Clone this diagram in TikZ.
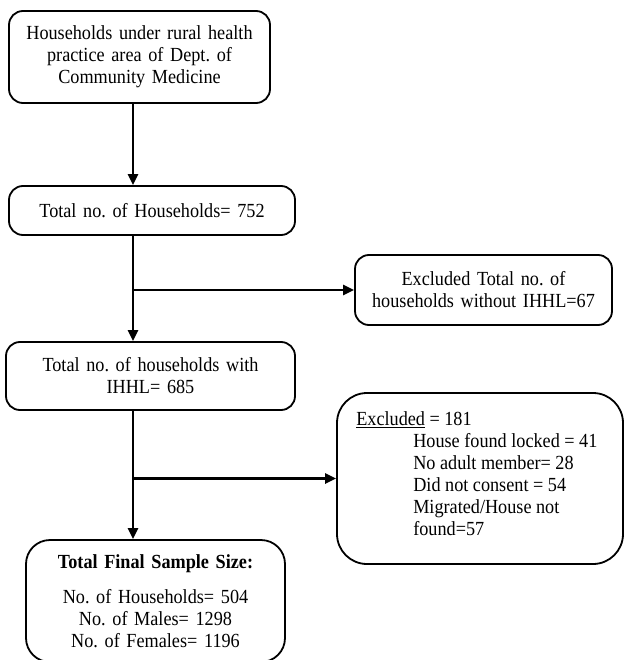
\documentclass[tikz,border=0pt]{standalone}
\usepackage{fontspec}
\setmainfont{Liberation Serif}[FakeStretch=0.91]
\usetikzlibrary{positioning}
\usetikzlibrary{arrows.meta}

\begin{document}
\begin{tikzpicture}[x=1pt,y=-1pt,
    flowtext/.style={inner sep=0pt,font=\fontsize{20}{22}\selectfont\frenchspacing},
    flowbox/.style={flowtext,draw,line width=1.8pt,rounded corners=14pt,align=center,
      inner xsep=6pt},
    flowarrow/.style={line width=2.8pt,-{Triangle[length=11pt,width=10pt]}}]
    %frame
    \useasboundingbox (0,0) rectangle (626,660);
    % spine of the chart
    \coordinate (spine) at (133,0);
    % Boxes
    \node[flowbox,minimum height=92pt,text width=249pt] (households) at (139.5,57)
      {Households under rural health\\practice area of Dept. of\\Community Medicine};
    \node[flowbox,minimum height=49pt,text width=274pt] (total) at (152,210.5)
      {Total no. of Households= 752};
    \node[flowbox,minimum height=70pt,text width=245pt] (nolatrine) at (483.5,290)
      {Excluded Total no. of\\households without IHHL=67};
    \node[flowbox,minimum height=68pt,text width=277pt] (withlatrine) at (150.5,376)
      {Total no. of households with\\IHHL= 685};
    \node[flowbox,rounded corners=30pt,minimum height=171pt,minimum width=286pt] (excluded) at (480,478.5) {};
    \node[flowtext,align=left,anchor=north west,below right=19pt and 20pt of excluded.north west] (reasons)
      {\underline{Excluded} = 181\\
       \hspace*{57pt}House found locked = 41\\
       \hspace*{57pt}No adult member= 28\\
       \hspace*{57pt}Did not consent = 54\\
       \hspace*{57pt}Migrated/House not\\
       \hspace*{57pt}found=57};
    \node[flowbox,rounded corners=24pt,minimum height=122pt,text width=247pt] (sample) at (155.5,601)
      {\textbf{Total Final Sample Size:}\\[13pt]No. of Households= 504\\No. of Males= 1298\\No. of Females= 1196};
    % Arrows
    \draw[flowarrow] (households.south -| spine) -- (total.north -| spine);
    \draw[flowarrow] (total.south -| spine) -- (withlatrine.north -| spine);
    \draw[flowarrow] (nolatrine.west -| spine) -- (nolatrine.west);
    \draw[flowarrow] (withlatrine.south -| spine) -- (sample.north -| spine);
    \draw[flowarrow] (excluded.west -| spine) -- (excluded.west);
\end{tikzpicture}
\end{document}
